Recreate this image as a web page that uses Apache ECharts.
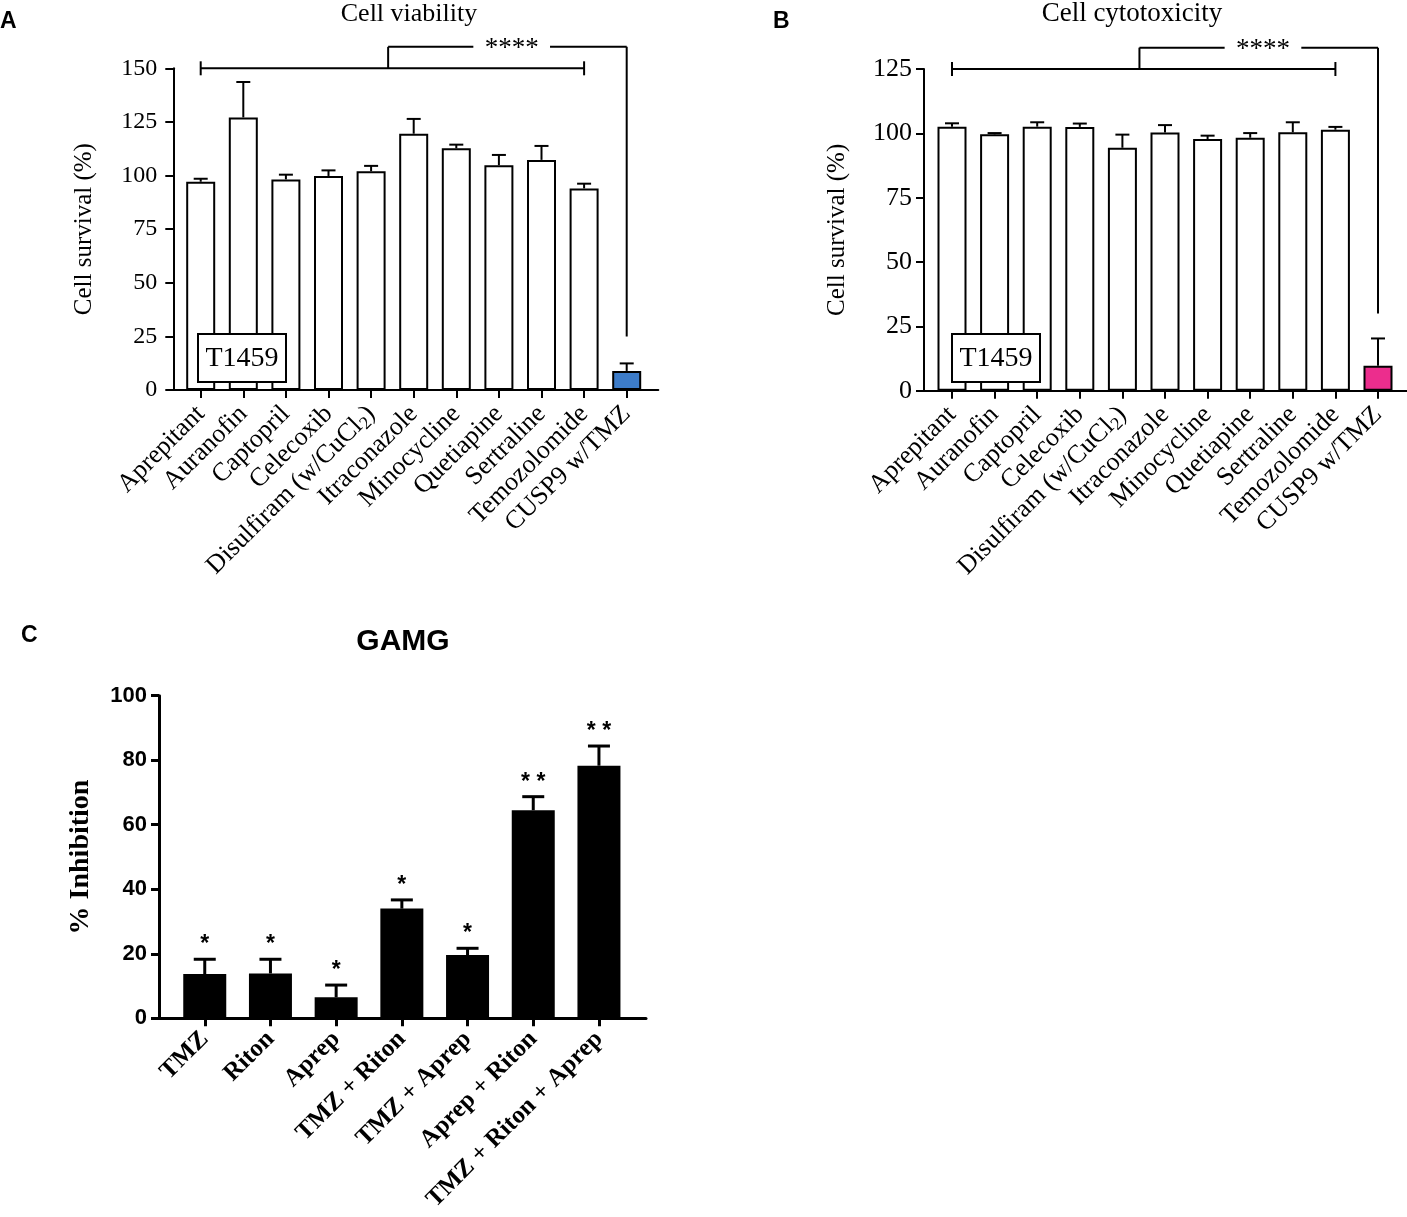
<!DOCTYPE html>
<html lang="en">
  <head>
    <meta charset="UTF-8" />
    <title>Cell viability / cytotoxicity / GAMG</title>
    <style>
      html, body { margin: 0; padding: 0; background: #fff; }
    </style>
  </head>
  <body>
    <div id="main" style="width: 1407px; height: 1217px"></div>

    <script src="https://cdn.jsdelivr.net/npm/echarts@6/dist/echarts.min.js"></script>
    <script>
      // ===== data =====
      const drugNames = [
        'Aprepitant', 'Auranofin', 'Captopril', 'Celecoxib', 'Disulfiram (w/CuCl₂)',
        'Itraconazole', 'Minocycline', 'Quetiapine', 'Sertraline', 'Temozolomide', 'CUSP9 w/TMZ'
      ]
      const viabilityMean = [97.1, 127.1, 98.2, 99.8, 102.0, 119.5, 112.7, 104.8, 107.3, 94.0, 8.9]
      const viabilitySem = [1.4, 16.5, 2.2, 2.6, 2.5, 6.9, 1.7, 4.8, 6.5, 2.2, 3.5]
      const cytotoxMean = [102.6, 99.6, 102.6, 102.5, 94.4, 100.3, 97.8, 98.3, 100.4, 101.4, 9.7]
      const cytotoxSem = [1.3, 0.5, 1.7, 1.3, 5.1, 2.9, 1.3, 1.8, 3.9, 1.1, 10.6]

      const gamgNames = ['TMZ', 'Riton', 'Aprep', 'TMZ + Riton', 'TMZ + Aprep', 'Aprep + Riton', 'TMZ + Riton + Aprep']
      const gamgMean = [13.7, 13.9, 6.5, 34.0, 19.6, 64.5, 78.3]
      const gamgSem = [4.6, 4.4, 3.8, 2.7, 2.1, 4.2, 6.1]
      const gamgStars = ['*', '*', '*', '*', '*', '**', '**']

      // significance brackets (category index / value units)
      const bracketA = { from: 0, to: 9, mid: 4.4, target: 10, low: 150, high: 160, end: 25, gapFrom: 6.4, gapTo: 8.2, textAt: 7.3, text: '****' }
      const bracketB = { from: 0, to: 9, mid: 4.4, target: 10, low: 125, high: 133.3, end: 30, gapFrom: 6.4, gapTo: 8.2, textAt: 7.3, text: '****' }
      // ===== data =====

      const SERIF = 'Liberation Serif'
      const SANS = 'Liberation Sans'

      const myChart = echarts.init(document.getElementById('main'))

      // x position of a (fractional) category index
      function catX(api, idx, y) {
        const p0 = api.coord([0, y])
        const p1 = api.coord([1, y])
        return p0[0] + (p1[0] - p0[0]) * idx
      }

      function errorSeries(axisIdx, mean, sem, opts) {
        return {
          type: 'custom',
          xAxisIndex: axisIdx,
          yAxisIndex: axisIdx,
          z: 3,
          clip: false,
          encode: { x: 0, y: [1, 2] },
          data: mean.map((m, i) => [i, m, m + sem[i]]),
          renderItem: function (params, api) {
            const i = api.value(0)
            const base = api.coord([i, api.value(1)])
            const top = api.coord([i, api.value(2)])
            const half = opts.cap / 2
            const st = { stroke: '#000', lineWidth: opts.lw }
            const kids = [
              { type: 'line', shape: { x1: base[0], y1: base[1], x2: top[0], y2: top[1] }, style: st },
              { type: 'line', shape: { x1: top[0] - half, y1: top[1], x2: top[0] + half, y2: top[1] }, style: st }
            ]
            if (opts.stars) {
              kids.push({
                type: 'text',
                style: {
                  text: opts.stars[params.dataIndex].split('').join(' '),
                  x: top[0],
                  y: top[1] - 3,
                  align: 'center',
                  verticalAlign: 'bottom',
                  textAlign: 'center',
                  textVerticalAlign: 'bottom',
                  font: 'bold 23px "' + SANS + '"',
                  fill: '#000'
                }
              })
            }
            return { type: 'group', children: kids }
          }
        }
      }

      function bracketSeries(axisIdx, b) {
        return {
          type: 'custom',
          xAxisIndex: axisIdx,
          yAxisIndex: axisIdx,
          z: 3,
          clip: false,
          data: [[0, b.low]],
          renderItem: function (params, api) {
            const yLow = api.coord([0, b.low])[1]
            const yHigh = api.coord([0, b.high])[1]
            const yEnd = api.coord([0, b.end])[1]
            const xFrom = catX(api, b.from, b.low)
            const xTo = catX(api, b.to, b.low)
            const xMid = catX(api, b.mid, b.low)
            const xTgt = catX(api, b.target, b.low)
            const xG1 = catX(api, b.gapFrom, b.low)
            const xG2 = catX(api, b.gapTo, b.low)
            const xT = catX(api, b.textAt, b.low)
            const st = { stroke: '#000', lineWidth: 2 }
            const ln = (x1, y1, x2, y2) => ({ type: 'line', shape: { x1, y1, x2, y2 }, style: st })
            return {
              type: 'group',
              children: [
                ln(xFrom, yLow, xTo, yLow),
                ln(xFrom, yLow - 7, xFrom, yLow + 7),
                ln(xTo, yLow - 7, xTo, yLow + 7),
                ln(xMid, yLow, xMid, yHigh),
                ln(xMid, yHigh, xG1, yHigh),
                ln(xG2, yHigh, xTgt, yHigh),
                ln(xTgt, yHigh, xTgt, yEnd),
                {
                  type: 'text',
                  style: {
                    text: b.text,
                    x: xT,
                    y: yHigh + 2,
                    align: 'center',
                    verticalAlign: 'middle',
                    textAlign: 'center',
                    textVerticalAlign: 'middle',
                    font: '27px "' + SERIF + '"',
                    fill: '#000'
                  }
                }
              ]
            }
          }
        }
      }

      function barItems(vals, lastColor, fill, border) {
        return vals.map((v, i) => ({
          value: v,
          itemStyle: {
            color: lastColor && i === vals.length - 1 ? lastColor : fill,
            borderColor: '#000',
            borderWidth: border
          }
        }))
      }

      // panel geometry (px)
      const A = { frameLeft: 173.3, frameW: 485, left: 179.4, width: 468.6, top: 68.3, height: 321.7 }
      const B = { frameLeft: 924, frameW: 483, left: 930.7, width: 468.6, top: 69, height: 321.7 }
      const C = { frameLeft: 159, frameW: 487, left: 171.9, width: 459.9, top: 695.7, height: 322.6 }

      const thinLine = { color: '#000', width: 2 }
      const thickLine = { color: '#000', width: 3 }

      function frameX(idx, line) {
        return {
          gridIndex: idx, type: 'value', min: 0, max: 1,
          axisLine: { show: true, lineStyle: line },
          axisTick: { show: false }, axisLabel: { show: false }, splitLine: { show: false }
        }
      }
      function frameY(idx, max, interval, line, label, name) {
        return {
          gridIndex: idx, type: 'value', min: 0, max: max, interval: interval,
          axisLine: { show: true, lineStyle: line },
          axisTick: { show: true, length: 8, lineStyle: line },
          axisLabel: label,
          splitLine: { show: false },
          name: name.text,
          nameLocation: 'middle',
          nameRotate: 90,
          nameGap: name.gap,
          nameTextStyle: name.style
        }
      }
      function dataX(idx, cats, line, label) {
        return {
          gridIndex: idx, type: 'category', data: cats,
          axisLine: { show: false },
          axisTick: { show: true, alignWithLabel: true, length: 8, lineStyle: line },
          axisLabel: label,
          splitLine: { show: false }
        }
      }
      function dataY(idx, max) {
        return { gridIndex: idx, type: 'value', min: 0, max: max, show: false }
      }

      const abXLabel = {
        interval: 0, rotate: 45, margin: 20, color: '#000',
        fontFamily: SERIF, fontSize: 26,
        formatter: function (v) {
          if (v.indexOf('₂') >= 0) {
            const parts = v.split('₂')
            return '{n|' + parts[0] + '}{s|2}{n|' + parts[1] + '}'
          }
          return v
        },
        rich: {
          n: { fontFamily: SERIF, fontSize: 26, color: '#000', lineHeight: 30 },
          s: { fontFamily: SERIF, fontSize: 18, color: '#000', lineHeight: 18, verticalAlign: 'bottom' }
        }
      }
      const abName = gap => ({ text: 'Cell survival (%)', gap: gap, style: { fontFamily: SERIF, fontSize: 25, color: '#000' } })

      function textEl(x, y, text, font) {
        return {
          type: 'text', x: x, y: y, z: 100,
          style: { text: text, font: font, fill: '#000', align: 'center', verticalAlign: 'middle', textAlign: 'center', textVerticalAlign: 'middle' }
        }
      }
      function labelBox(left, top) {
        return [
          { type: 'rect', z: 100, shape: { x: left, y: top, width: 88, height: 48 }, style: { fill: '#fff', stroke: '#000', lineWidth: 2 } },
          textEl(left + 44, top + 25, 'T1459', '28px "' + SERIF + '"')
        ]
      }

      const option = {
        backgroundColor: '#fff',
        animation: false,
        grid: [
          { left: A.frameLeft, top: A.top, width: A.frameW, height: A.height },
          { left: A.left, top: A.top, width: A.width, height: A.height },
          { left: B.frameLeft, top: B.top, width: B.frameW, height: B.height },
          { left: B.left, top: B.top, width: B.width, height: B.height },
          { left: C.frameLeft, top: C.top, width: C.frameW, height: C.height },
          { left: C.left, top: C.top, width: C.width, height: C.height }
        ],
        xAxis: [
          frameX(0, thinLine),
          dataX(1, drugNames, thinLine, abXLabel),
          frameX(2, thinLine),
          dataX(3, drugNames, thinLine, abXLabel),
          frameX(4, thickLine),
          dataX(5, gamgNames, thickLine, {
            interval: 0, rotate: 45, margin: 17, color: '#000',
            fontFamily: SERIF, fontWeight: 'bold', fontSize: 25
          })
        ],
        yAxis: [
          frameY(0, 150, 25, thinLine, { margin: 16, color: '#000', fontFamily: SERIF, fontSize: 24 }, abName(76)),
          dataY(1, 150),
          frameY(2, 125, 25, thinLine, { margin: 12, color: '#000', fontFamily: SERIF, fontSize: 26 }, abName(74)),
          dataY(3, 125),
          frameY(4, 100, 20, thickLine,
            { margin: 12, color: '#000', fontFamily: SANS, fontWeight: 'bold', fontSize: 22 },
            { text: '% Inhibition', gap: 64, style: { fontFamily: SERIF, fontWeight: 'bold', fontSize: 28, color: '#000' } }),
          dataY(5, 100)
        ],
        graphic: {
          z: 100,
          elements: [
            { type: 'text', left: 0, top: 10, style: { text: 'A', font: 'bold 23px "' + SANS + '"', fill: '#000' } },
            { type: 'text', left: 773, top: 10, style: { text: 'B', font: 'bold 23px "' + SANS + '"', fill: '#000' } },
            { type: 'text', left: 21, top: 624, style: { text: 'C', font: 'bold 23px "' + SANS + '"', fill: '#000' } },
            textEl(409, 14, 'Cell viability', '26px "' + SERIF + '"'),
            textEl(1132, 14, 'Cell cytotoxicity', '27px "' + SERIF + '"'),
            textEl(403, 642, 'GAMG', 'bold 30px "' + SANS + '"')
          ].concat(labelBox(198, 334), labelBox(952, 334))
        },
        series: [
          {
            type: 'bar', xAxisIndex: 1, yAxisIndex: 1, barWidth: 29,
            data: barItems(viabilityMean, '#3d7cc9', '#fff', 2)
          },
          errorSeries(1, viabilityMean, viabilitySem, { cap: 14, lw: 2 }),
          bracketSeries(1, bracketA),
          {
            type: 'bar', xAxisIndex: 3, yAxisIndex: 3, barWidth: 29,
            data: barItems(cytotoxMean, '#ec2d8d', '#fff', 2)
          },
          errorSeries(3, cytotoxMean, cytotoxSem, { cap: 14, lw: 2 }),
          bracketSeries(3, bracketB),
          {
            type: 'bar', xAxisIndex: 5, yAxisIndex: 5, barWidth: 43,
            data: barItems(gamgMean, null, '#000', 0)
          },
          errorSeries(5, gamgMean, gamgSem, { cap: 22, lw: 3, stars: gamgStars })
        ]
      }

      myChart.setOption(option)
    </script>
  </body>
</html>
